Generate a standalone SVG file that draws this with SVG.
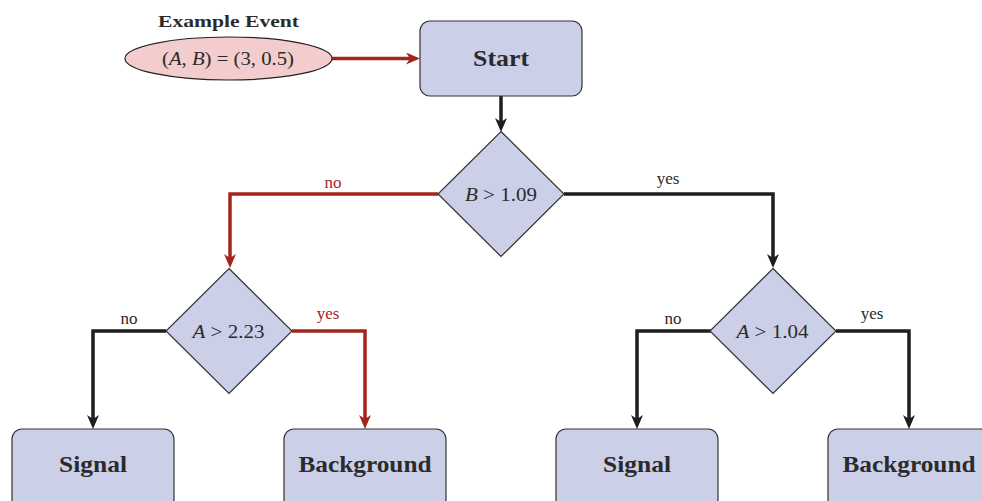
<svg xmlns="http://www.w3.org/2000/svg" width="982" height="501" viewBox="0 0 982 501">
<style>
.box{fill:#cccfe8;stroke:#333;stroke-width:1.2}
.ell{fill:#f3cdcd;stroke:#222;stroke-width:1.2}
.t{font-family:"Liberation Serif","DejaVu Serif",serif;fill:#2b2b2b}
.b{font-weight:bold;font-size:23px}
.m{font-size:19px}
.lab{font-size:17px}
.k{fill:none;stroke:#1e1e1e;stroke-width:3.5}
.r{fill:none;stroke:#a3241d;stroke-width:3.5}
.red{fill:#a3241d}
</style>
<defs>
<marker id="ak" viewBox="0 0 14 12" refX="6" refY="6" markerWidth="14" markerHeight="12" markerUnits="userSpaceOnUse" orient="auto"><path d="M0,0 L14,6 L0,12 L4,6 z" fill="#1e1e1e"/></marker>
<marker id="ar" viewBox="0 0 14 12" refX="6" refY="6" markerWidth="14" markerHeight="12" markerUnits="userSpaceOnUse" orient="auto"><path d="M0,0 L14,6 L0,12 L4,6 z" fill="#a3241d"/></marker>
</defs>
<g id="connectors">
<path class="r" d="M332,58.5 H412" marker-end="url(#ar)"/>
<path class="k" d="M501,96 V124" marker-end="url(#ak)"/>
<path class="r" d="M438,194 H230 V260" marker-end="url(#ar)"/>
<path class="k" d="M564,194 H773 V260" marker-end="url(#ak)"/>
<path class="k" d="M166,331 H93 V421" marker-end="url(#ak)"/>
<path class="r" d="M292,331 H365 V421" marker-end="url(#ar)"/>
<path class="k" d="M711,331 H637 V421" marker-end="url(#ak)"/>
<path class="k" d="M836,331 H909 V421" marker-end="url(#ak)"/>
<text class="t lab red" x="333" y="188" text-anchor="middle">no</text>
<text class="t lab" x="668" y="184" text-anchor="middle">yes</text>
<text class="t lab" x="129" y="324" text-anchor="middle">no</text>
<text class="t lab red" x="328" y="319" text-anchor="middle">yes</text>
<text class="t lab" x="673" y="324" text-anchor="middle">no</text>
<text class="t lab" x="872" y="319" text-anchor="middle">yes</text>
</g>
<g id="event">
<text class="t" x="228.5" y="26.5" text-anchor="middle" font-weight="bold" font-size="17" textLength="141" lengthAdjust="spacingAndGlyphs">Example Event</text>
<ellipse class="ell" cx="228.5" cy="58.5" rx="103.5" ry="21.5"/>
<text class="t m" x="228" y="64.5" text-anchor="middle" textLength="132" lengthAdjust="spacingAndGlyphs">(<tspan font-style="italic">A</tspan>, <tspan font-style="italic">B</tspan>) = (3, 0.5)</text>
</g>
<g id="start">
<rect class="box" x="420" y="21" width="162" height="75" rx="10"/>
<text class="t b" x="501" y="66" text-anchor="middle" textLength="56" lengthAdjust="spacingAndGlyphs">Start</text>
</g>
<g id="d1">
<polygon class="box" points="501,131.5 564,194 501,256.5 438,194"/>
<text class="t m" x="501" y="201" text-anchor="middle" textLength="72" lengthAdjust="spacingAndGlyphs"><tspan font-style="italic">B</tspan> &gt; 1.09</text>
</g>
<g id="d2">
<polygon class="box" points="229,268.5 292,331 229,393.5 166,331"/>
<text class="t m" x="228.5" y="337.5" text-anchor="middle" textLength="72" lengthAdjust="spacingAndGlyphs"><tspan font-style="italic">A</tspan> &gt; 2.23</text>
</g>
<g id="d3">
<polygon class="box" points="773,268.5 836,331 773,393.5 710,331"/>
<text class="t m" x="772.5" y="337.5" text-anchor="middle" textLength="72" lengthAdjust="spacingAndGlyphs"><tspan font-style="italic">A</tspan> &gt; 1.04</text>
</g>
<g id="sig1">
<rect class="box" x="12" y="429" width="162" height="80" rx="10"/>
<text class="t b" x="93" y="472" text-anchor="middle" textLength="68" lengthAdjust="spacingAndGlyphs">Signal</text>
</g>
<g id="bkg1">
<rect class="box" x="284" y="429" width="162" height="80" rx="10"/>
<text class="t b" x="365" y="472" text-anchor="middle" textLength="133" lengthAdjust="spacingAndGlyphs">Background</text>
</g>
<g id="sig2">
<rect class="box" x="556" y="429" width="162" height="80" rx="10"/>
<text class="t b" x="637" y="472" text-anchor="middle" textLength="68" lengthAdjust="spacingAndGlyphs">Signal</text>
</g>
<g id="bkg2">
<rect class="box" x="828" y="429" width="162" height="80" rx="10"/>
<text class="t b" x="909" y="472" text-anchor="middle" textLength="133" lengthAdjust="spacingAndGlyphs">Background</text>
</g>
</svg>
